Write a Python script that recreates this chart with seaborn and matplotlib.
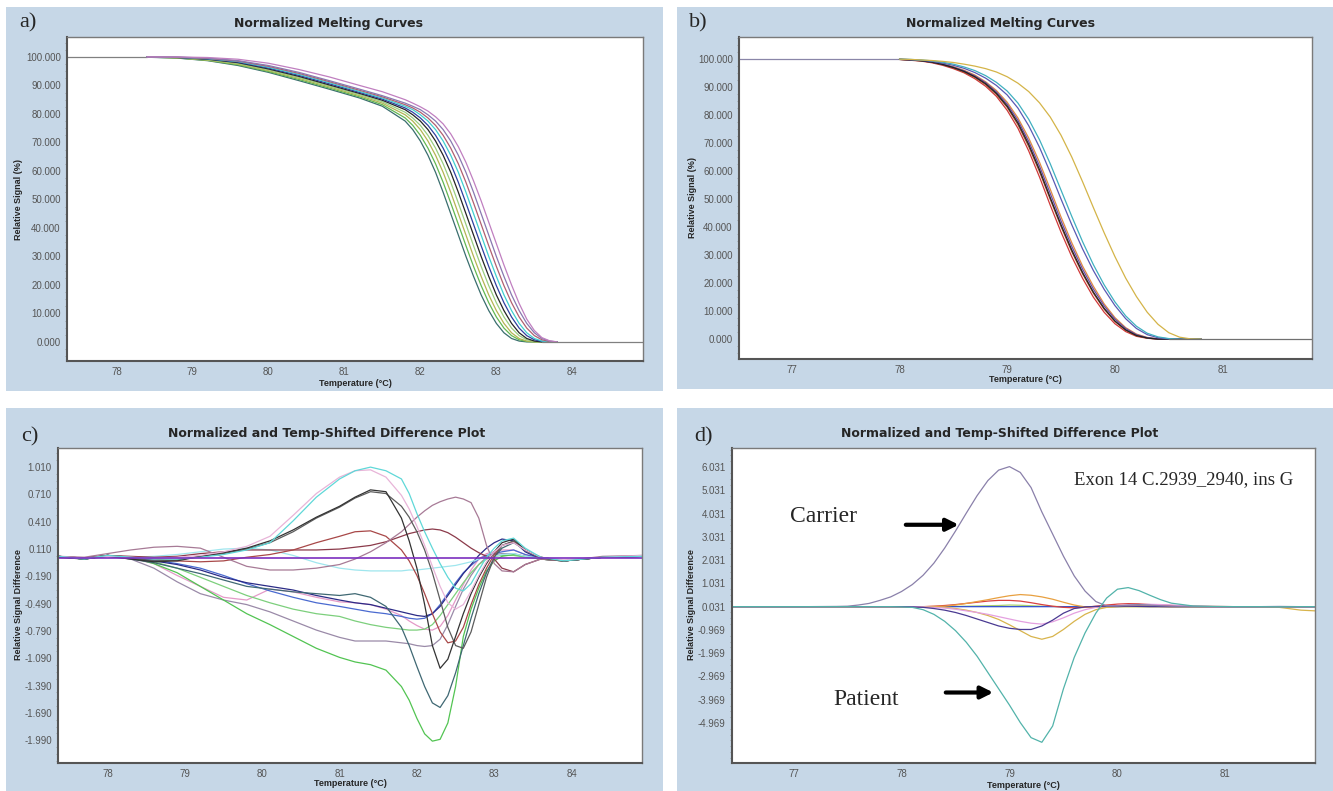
import matplotlib
matplotlib.use('Agg')
import matplotlib.pyplot as plt
import pandas as pd
import seaborn as sns
from matplotlib.patches import Rectangle
from matplotlib.ticker import AutoMinorLocator

W, H = 1333, 791
PANEL_BG = '#c6d7e7'

# ---------------- panel a: normalized melting curves ----------------
A_T = [78.4, 78.8, 79.2, 79.6, 80.0, 80.4, 80.8, 81.2, 81.5, 81.8, 81.9,
       82.0, 82.1, 82.2, 82.3, 82.4, 82.5, 82.6, 82.7, 82.8, 82.9,
       83.0, 83.1, 83.2, 83.3, 83.4, 83.5, 83.6, 83.7, 83.8]
A_CURVES = {
    'a1': [99.9, 99.6, 98.7, 97.0, 94.6, 91.7, 88.7, 85.6, 82.7, 77.5, 74.5,
           70.5, 65.5, 59.5, 52.5, 45.0, 37.5, 30.0, 23.0, 16.5, 11.0,
           6.5, 3.2, 1.2, 0.3, 0, 0, 0, 0, 0],
    'a2': [99.95, 99.65, 98.8, 97.25, 94.9, 92.1, 89.1, 86.0, 83.25, 78.6, 76.0,
           72.5, 68.0, 62.5, 56.0, 48.75, 41.25, 33.75, 26.5, 19.75, 13.75,
           8.75, 4.85, 2.2, 0.75, 0.15, 0, 0, 0, 0],
    'a3': [100, 99.7, 98.9, 97.5, 95.2, 92.5, 89.5, 86.4, 83.8, 79.7, 77.5,
           74.5, 70.5, 65.5, 59.5, 52.5, 45.0, 37.5, 30.0, 23.0, 16.5,
           11.0, 6.5, 3.2, 1.2, 0.3, 0, 0, 0, 0],
    'a4': [100, 99.75, 99.05, 97.75, 95.5, 92.85, 89.85, 86.8, 84.3, 80.6, 78.6,
           76.0, 72.5, 68.0, 62.5, 56.0, 48.75, 41.25, 33.75, 26.5, 19.75,
           13.75, 8.75, 4.85, 2.2, 0.75, 0.15, 0, 0, 0],
    'a5': [100, 99.8, 99.2, 98.0, 95.8, 93.2, 90.2, 87.2, 84.8, 81.5, 79.7,
           77.5, 74.5, 70.5, 65.5, 59.5, 52.5, 45.0, 37.5, 30.0, 23.0,
           16.5, 11.0, 6.5, 3.2, 1.2, 0.3, 0, 0, 0],
    'a6': [100, 99.85, 99.3, 98.2, 96.1, 93.55, 90.6, 87.55, 85.2, 82.1, 80.6,
           78.6, 76.0, 72.5, 68.0, 62.5, 56.0, 48.75, 41.25, 33.75, 26.5,
           19.75, 13.75, 8.75, 4.85, 2.2, 0.75, 0.15, 0, 0],
    'a7': [100, 99.9, 99.4, 98.4, 96.4, 93.9, 91.0, 87.9, 85.6, 82.7, 81.5,
           79.7, 77.5, 74.5, 70.5, 65.5, 59.5, 52.5, 45.0, 37.5, 30.0,
           23.0, 16.5, 11.0, 6.5, 3.2, 1.2, 0.3, 0, 0],
    'a8': [100, 99.9, 99.5, 98.55, 96.7, 94.25, 91.35, 88.3, 86.0, 83.25, 82.1,
           80.6, 78.6, 76.0, 72.5, 68.0, 62.5, 56.0, 48.75, 41.25, 33.75,
           26.5, 19.75, 13.75, 8.75, 4.85, 2.2, 0.75, 0.15, 0],
    'a9': [100, 99.95, 99.6, 98.7, 97.0, 94.6, 91.7, 88.7, 86.4, 83.8, 82.7,
           81.5, 79.7, 77.5, 74.5, 70.5, 65.5, 59.5, 52.5, 45.0, 37.5,
           30.0, 23.0, 16.5, 11.0, 6.5, 3.2, 1.2, 0.3, 0],
    'a10': [100, 100, 99.8, 99.2, 97.8, 95.6, 93.0, 90.0, 87.8, 85.0, 83.8,
            82.5, 81.0, 79.0, 76.5, 73.0, 68.5, 63.0, 56.5, 49.5, 42.0,
            34.5, 27.0, 20.0, 13.5, 8.0, 4.0, 1.5, 0.4, 0],
}
A_COLORS = ['#3a6e6e', '#62b852', '#b4b454', '#9acd80', '#252525',
            '#3040a0', '#40d0d0', '#b06070', '#8878b0', '#c07fc0']
A_HEAD_T, A_HEAD_V = [77.35, 78.4], [100, 100]
A_TAIL_T, A_TAIL_V = [83.6, 84.93], [0, 0]

# ---------------- panel b: normalized melting curves ----------------
B_T = [78.0, 78.1, 78.2, 78.3, 78.4, 78.5, 78.6, 78.7, 78.8, 78.9,
       79.0, 79.1, 79.2, 79.3, 79.4, 79.5, 79.6, 79.7, 79.8, 79.9,
       80.0, 80.1, 80.2, 80.3, 80.4, 80.5, 80.6, 80.7, 80.8]
B_CURVES = {
    'b1': [99.9, 99.6, 99.3, 98.7, 97.8, 96.6, 95.1, 93.0, 90.3, 86.7,
           81.7, 75.3, 67.2, 57.9, 47.8, 38.2, 29.4, 21.7, 15.0, 9.6,
           5.5, 2.7, 1.0, 0.3, 0, 0, 0, 0, 0],
    'b2': [99.9, 99.8, 99.5, 99.0, 98.3, 97.3, 96.0, 94.3, 91.9, 88.8,
           84.6, 79.0, 71.8, 63.2, 53.5, 43.6, 34.4, 26.1, 18.9, 12.6,
           7.7, 4.1, 1.8, 0.6, 0.1, 0, 0, 0, 0],
    'b3': [99.9, 99.7, 99.4, 98.9, 98.0, 96.9, 95.4, 93.5, 90.9, 87.4,
           82.8, 76.6, 68.8, 59.8, 49.9, 40.2, 31.2, 23.3, 16.4, 10.7,
           6.3, 3.2, 1.2, 0.4, 0, 0, 0, 0, 0],
    'b4': [99.9, 99.8, 99.5, 98.9, 98.2, 97.1, 95.8, 94.0, 91.6, 88.3,
           83.9, 78.1, 70.6, 61.8, 52.0, 42.2, 33.1, 25.0, 17.9, 11.9,
           7.2, 3.8, 1.6, 0.5, 0.1, 0, 0, 0, 0],
    'b5': [99.9, 99.7, 99.4, 98.9, 98.1, 97.0, 95.6, 93.7, 91.2, 87.8,
           83.2, 77.2, 69.5, 60.5, 50.5, 40.8, 31.8, 23.8, 16.8, 11.0,
           6.5, 3.3, 1.3, 0.4, 0, 0, 0, 0, 0],
    'b6': [100, 99.8, 99.6, 99.2, 98.6, 97.8, 96.7, 95.2, 93.2, 90.6,
           87.2, 82.5, 76.2, 68.5, 59.5, 50.0, 40.8, 32.2, 24.5, 17.8,
           12.0, 7.3, 3.8, 1.6, 0.5, 0.1, 0, 0, 0],
    'b7': [100, 99.9, 99.7, 99.4, 98.9, 98.2, 97.2, 95.9, 94.1, 91.7,
           88.6, 84.3, 78.5, 71.2, 62.6, 53.2, 43.8, 34.8, 26.6, 19.4,
           13.3, 8.3, 4.6, 2.1, 0.8, 0.2, 0, 0, 0],
    'b8': [100, 99.9, 99.7, 99.5, 99.2, 98.8, 98.2, 97.5, 96.6, 95.4,
           93.7, 91.4, 88.4, 84.4, 79.3, 72.8, 65.0, 56.2, 47.0, 38.0,
           29.5, 21.8, 15.2, 9.6, 5.3, 2.3, 0.7, 0.1, 0],
}
B_COLORS = ['#d03838', '#e08a40', '#a0522d', '#6a4aa8', '#222222',
            '#5a5ab4', '#40b0c0', '#d4b448']
B_HEAD_T, B_HEAD_V = [76.51, 78.0], [100, 100]
B_TAIL_T, B_TAIL_V = [80.5, 81.83], [0, 0]

# ---------------- panel c: difference plot ----------------
C_T = [77.36, 77.7, 78.0, 78.3, 78.6, 78.9, 79.2, 79.5, 79.8, 80.1, 80.4, 80.7,
       81.0, 81.2, 81.4, 81.6, 81.8, 81.9, 82.0, 82.1, 82.2, 82.3, 82.4, 82.5,
       82.6, 82.7, 82.8, 82.9, 83.0, 83.1, 83.25, 83.4, 83.6, 83.9, 84.4, 84.91]
C_CURVES = {
    'graypurple': [0.03, 0.0, 0.04, 0.0, -0.1, -0.25, -0.38, -0.45, -0.5, -0.58, -0.68, -0.78,
                   -0.86, -0.9, -0.9, -0.9, -0.92, -0.93, -0.95, -0.96, -0.95, -0.88, -0.72, -0.52,
                   -0.33, -0.18, -0.06, 0.02, 0.05, 0.06, 0.06, 0.03, 0.0, -0.02, 0.02, 0.03],
    'pink': [0.03, 0.0, 0.04, 0.01, -0.05, -0.18, -0.3, -0.42, -0.45, -0.33, -0.36, -0.42,
             -0.47, -0.48, -0.5, -0.55, -0.62, -0.68, -0.73, -0.77, -0.78, -0.74, -0.62, -0.45,
             -0.28, -0.12, 0.0, 0.06, 0.08, 0.1, 0.1, 0.05, 0.01, -0.02, 0.02, 0.03],
    'green2': [0.03, 0.0, 0.04, 0.01, -0.03, -0.1, -0.2, -0.3, -0.4, -0.48, -0.55, -0.6,
               -0.63, -0.68, -0.72, -0.75, -0.77, -0.78, -0.78, -0.77, -0.72, -0.62, -0.5, -0.38,
               -0.26, -0.15, -0.06, 0.0, 0.03, 0.04, 0.04, 0.02, 0.0, -0.02, 0.02, 0.03],
    'blue': [0.03, 0.0, 0.04, 0.02, -0.01, -0.05, -0.1, -0.18, -0.27, -0.35, -0.42, -0.48,
             -0.52, -0.55, -0.58, -0.6, -0.63, -0.65, -0.66, -0.65, -0.6, -0.5, -0.38, -0.26,
             -0.15, -0.07, 0.0, 0.04, 0.06, 0.08, 0.1, 0.05, 0.01, -0.02, 0.02, 0.03],
    'navy': [0.03, 0.01, 0.04, 0.01, -0.02, -0.06, -0.12, -0.2, -0.26, -0.3, -0.34, -0.4,
             -0.45, -0.48, -0.5, -0.54, -0.58, -0.6, -0.62, -0.63, -0.6, -0.52, -0.4, -0.28,
             -0.16, -0.06, 0.04, 0.12, 0.18, 0.22, 0.2, 0.08, 0.0, -0.02, 0.02, 0.03],
    'green': [0.03, 0.0, 0.04, 0.02, -0.05, -0.15, -0.3, -0.45, -0.6, -0.72, -0.85, -0.98,
              -1.08, -1.13, -1.16, -1.22, -1.4, -1.55, -1.75, -1.92, -2.0, -1.98, -1.8, -1.4,
              -0.85, -0.55, -0.32, -0.13, -0.02, 0.03, 0.05, 0.03, 0.0, -0.02, 0.02, 0.03],
    'slate': [0.03, 0.0, 0.04, 0.0, -0.04, -0.1, -0.16, -0.23, -0.3, -0.33, -0.36, -0.38,
              -0.4, -0.38, -0.42, -0.52, -0.75, -0.95, -1.18, -1.4, -1.58, -1.63, -1.5, -1.25,
              -0.95, -0.65, -0.38, -0.15, 0.02, 0.12, 0.18, 0.1, 0.02, -0.02, 0.02, 0.03],
    'lightcyan': [0.03, 0.0, 0.04, 0.02, 0.03, 0.05, 0.08, 0.11, 0.12, 0.1, 0.04, -0.04,
                  -0.1, -0.12, -0.13, -0.13, -0.13, -0.12, -0.12, -0.11, -0.1, -0.09, -0.08, -0.07,
                  -0.05, -0.03, 0.0, 0.02, 0.03, 0.05, 0.06, 0.03, 0.01, -0.01, 0.02, 0.03],
    'maroon': [0.03, 0.01, 0.04, 0.03, 0.02, 0.03, 0.06, 0.08, 0.1, 0.1, 0.1, 0.1,
               0.11, 0.13, 0.15, 0.19, 0.25, 0.28, 0.3, 0.32, 0.33, 0.32, 0.29, 0.24,
               0.18, 0.12, 0.07, 0.03, 0.0, -0.1, -0.14, -0.06, 0.0, -0.02, 0.02, 0.03],
    'red': [0.03, 0.0, 0.04, 0.02, 0.0, -0.02, -0.03, -0.02, 0.02, 0.05, 0.1, 0.18,
            0.25, 0.3, 0.31, 0.25, 0.1, -0.02, -0.18, -0.38, -0.6, -0.8, -0.92, -0.9,
            -0.75, -0.5, -0.28, -0.1, 0.05, 0.15, 0.19, 0.1, 0.02, -0.02, 0.02, 0.03],
    'mauve': [0.03, 0.02, 0.06, 0.1, 0.13, 0.14, 0.12, 0.02, -0.08, -0.12, -0.12, -0.1,
              -0.06, 0.0, 0.08, 0.18, 0.3, 0.38, 0.46, 0.53, 0.59, 0.63, 0.66, 0.68,
              0.66, 0.62, 0.45, 0.15, -0.05, -0.13, -0.14, -0.06, 0.0, -0.02, 0.03, 0.04],
    'darkgray': [0.03, 0.01, 0.04, 0.01, -0.02, -0.01, 0.03, 0.06, 0.11, 0.18, 0.3, 0.45,
                 0.57, 0.67, 0.74, 0.72, 0.58, 0.46, 0.3, 0.1, -0.15, -0.45, -0.75, -0.95,
                 -0.98, -0.8, -0.5, -0.2, 0.02, 0.15, 0.2, 0.1, 0.01, -0.02, 0.02, 0.03],
    'black': [0.02, 0.0, 0.03, 0.0, -0.03, -0.02, 0.03, 0.07, 0.12, 0.2, 0.32, 0.46,
              0.58, 0.68, 0.76, 0.74, 0.45, 0.2, -0.1, -0.5, -0.95, -1.2, -1.1, -0.85,
              -0.6, -0.38, -0.2, -0.05, 0.08, 0.18, 0.22, 0.1, 0.02, -0.02, 0.02, 0.03],
    'lightpink': [0.03, 0.01, 0.03, 0.02, 0.01, 0.02, 0.04, 0.08, 0.14, 0.25, 0.48, 0.72,
                  0.9, 0.97, 0.98, 0.9, 0.7, 0.55, 0.36, 0.15, -0.08, -0.3, -0.48, -0.55,
                  -0.5, -0.35, -0.18, -0.03, 0.08, 0.15, 0.18, 0.1, 0.02, -0.01, 0.02, 0.04],
    'cyan': [0.03, 0.0, 0.04, 0.02, 0.0, 0.0, 0.02, 0.05, 0.1, 0.18, 0.42, 0.68,
             0.88, 0.97, 1.01, 0.97, 0.88, 0.72, 0.5, 0.3, 0.12, -0.05, -0.2, -0.32,
             -0.35, -0.27, -0.12, 0.02, 0.12, 0.2, 0.23, 0.12, 0.02, -0.02, 0.02, 0.03],
}
C_COLORS = ['#9a8aa8', '#e49ac8', '#7ccf7c', '#4a6ad0', '#2b2b86', '#52c452',
            '#3f6873', '#9fe6ee', '#8b3a4a', '#a84848', '#a77a96', '#5c5c5c',
            '#333333', '#e8b4d8', '#5fd8d8']
C_BASE_T, C_BASE_V = [77.36, 84.91], [0.01, 0.01]

# ---------------- panel d: difference plot ----------------
D_T = [76.43, 76.8, 77.1, 77.4, 77.5, 77.6, 77.7, 77.8, 77.9, 78.0, 78.1, 78.2,
       78.3, 78.4, 78.5, 78.6, 78.7, 78.8, 78.9, 79.0, 79.1, 79.2, 79.3, 79.4,
       79.5, 79.6, 79.7, 79.8, 79.9, 80.0, 80.1, 80.2, 80.3, 80.4, 80.5, 80.7,
       80.9, 81.1, 81.3, 81.5, 81.7, 81.83]
D_CURVES = {
    'lgreen': [0.03] * 9 + [0.03, 0.03, 0.03, 0.03, 0.04, 0.04, 0.05, 0.06, 0.07, 0.08,
                            0.1, 0.09, 0.07, 0.05, 0.04, 0.03, 0.03, 0.03, 0.03, 0.03] + [0.03] * 13,
    'blue': [0.03] * 30 + [0.05, 0.07, 0.06, 0.04] + [0.03] * 8,
    'red': [0.03] * 9 + [0.03, 0.03, 0.03, 0.05, 0.08, 0.12, 0.17, 0.22, 0.27, 0.3,
                         0.3, 0.27, 0.2, 0.12, 0.05, 0.0, -0.02, 0.0, 0.05, 0.1,
                         0.14, 0.16, 0.15, 0.12, 0.1, 0.08,
                         0.05, 0.04, 0.03, 0.03, 0.03, 0.03, 0.03],
    'orange': [0.03] * 9 + [0.03, 0.03, 0.03, 0.04, 0.05, 0.1, 0.17, 0.25, 0.33, 0.42,
                            0.5, 0.55, 0.52, 0.45, 0.35, 0.22, 0.1, 0.02, 0.0, 0.02,
                            0.04, 0.06, 0.06, 0.05, 0.04, 0.03] + [0.03] * 7,
    'yellow': [0.03] * 9 + [0.03, 0.03, 0.03, 0.02, 0.0, -0.05, -0.12, -0.22, -0.35, -0.52,
                            -0.75, -1.0, -1.25, -1.37, -1.25, -0.95, -0.6, -0.3, -0.1, 0.0,
                            0.03, 0.03, 0.03, 0.03, 0.03, 0.03,
                            0.03, 0.03, 0.03, 0.02, 0.0, -0.12, -0.15],
    'pink': [0.03] * 9 + [0.03, 0.03, 0.02, 0.0, -0.03, -0.08, -0.15, -0.22, -0.3, -0.4,
                          -0.5, -0.6, -0.68, -0.72, -0.62, -0.45, -0.25, -0.1, 0.0, 0.05,
                          0.08, 0.1, 0.12, 0.13, 0.12, 0.1,
                          0.05, 0.03, 0.03, 0.03, 0.03, 0.03, 0.03],
    'navy': [0.03] * 9 + [0.03, 0.02, 0.0, -0.05, -0.12, -0.22, -0.35, -0.5, -0.65, -0.8,
                          -0.9, -0.95, -0.95, -0.8, -0.55, -0.25, -0.05, 0.02, 0.04, 0.05,
                          0.05, 0.05, 0.04, 0.03, 0.03, 0.03] + [0.03] * 7,
    'carrier': [0.03, 0.03, 0.03, 0.04, 0.05, 0.1, 0.17, 0.3, 0.45,
                0.68, 0.98, 1.38, 1.9, 2.55, 3.28, 4.05, 4.8, 5.45, 5.9,
                6.05, 5.8, 5.15, 4.1, 3.15, 2.2, 1.35, 0.7, 0.25, 0.06,
                0.06, 0.1, 0.12, 0.1, 0.07, 0.05,
                0.04, 0.03, 0.03, 0.03, 0.04, 0.03, 0.03],
    'patient': [0.03] * 9 + [0.02, 0.0, -0.1, -0.3, -0.6, -1.0, -1.5, -2.1, -2.8, -3.5,
                             -4.2, -4.95, -5.6, -5.8, -5.1, -3.5, -2.15, -1.1, -0.25, 0.4,
                             0.78, 0.85, 0.72, 0.52, 0.33, 0.18,
                             0.06, 0.04, 0.03, 0.03, 0.02, 0.03, 0.03],
}
D_COLORS = ['#a8d070', '#3050d0', '#d84040', '#e8a040', '#d8b44c', '#e4a0e0',
            '#4a3a92', '#8a80aa', '#52b3aa']


def long_form(temps, curves):
    wide = pd.DataFrame({'temp': temps, **curves})
    return wide.melt(id_vars='temp', var_name='sample', value_name='signal')


def draw_curves(ax, temps, curves, colors, lw=0.9):
    df = long_form(temps, curves)
    sns.lineplot(data=df, x='temp', y='signal', hue='sample',
                 hue_order=list(curves), palette=colors, estimator=None,
                 legend=False, linewidth=lw, ax=ax)


def px_axes(fig, left, top, right, bottom):
    return fig.add_axes([left / W, 1 - bottom / H, (right - left) / W, (bottom - top) / H])


def style_axes(ax, xlim, ylim, xticks, yticks, yfmt):
    ax.set_xlim(xlim)
    ax.set_ylim(ylim)
    ax.set_xticks(xticks)
    ax.set_xticklabels([str(t) for t in xticks])
    ax.set_yticks(yticks)
    ax.set_yticklabels([yfmt.format(v) for v in yticks])
    ax.yaxis.set_minor_locator(AutoMinorLocator(4))
    ax.tick_params(which='major', direction='out', length=3, width=0.7,
                   color='#777777', labelsize=7, labelcolor='#555555', pad=1.5)
    ax.tick_params(axis='y', which='minor', direction='out', length=1.5,
                   width=0.6, color='#999999', left=True)
    ax.set_xlabel('')
    ax.set_ylabel('')
    for side in ['left', 'bottom']:
        ax.spines[side].set_color('#555555')
        ax.spines[side].set_linewidth(1.5)
    for side in ['top', 'right']:
        ax.spines[side].set_color('#7a7a7a')
        ax.spines[side].set_linewidth(1.0)


def ftext(fig, x, y, s, **kw):
    fig.text(x / W, 1 - y / H, s, **kw)


sns.set_style('white')
plt.rcParams['font.family'] = ['Liberation Sans', 'DejaVu Sans']

fig = plt.figure(figsize=(W / 100, H / 100), dpi=100)
fig.patch.set_facecolor('white')

# blue panel backgrounds
for x0, y0, x1, y1 in [(6, 7, 663, 391), (677, 7, 1333, 389),
                       (6, 408, 663, 791), (677, 408, 1333, 791)]:
    fig.add_artist(Rectangle((x0 / W, 1 - y1 / H), (x1 - x0) / W, (y1 - y0) / H,
                             transform=fig.transFigure, facecolor=PANEL_BG,
                             edgecolor='none', zorder=0))

title_kw = dict(ha='center', va='center', fontsize=9, fontweight='bold',
                family=['DejaVu Sans'])
label_kw = dict(ha='center', va='center', fontsize=6.5, fontweight='bold')
panel_kw = dict(ha='left', va='center', fontsize=16, family=['Liberation Serif'])

# ---- a ----
ax_a = px_axes(fig, 67, 37, 643, 361)
sns.lineplot(x=A_HEAD_T, y=A_HEAD_V, color='#808080', linewidth=0.9, ax=ax_a)
draw_curves(ax_a, A_T, A_CURVES, A_COLORS)
sns.lineplot(x=A_TAIL_T, y=A_TAIL_V, color='#808080', linewidth=0.9, ax=ax_a)
style_axes(ax_a, (77.35, 84.93), (-6.7, 107), [78, 79, 80, 81, 82, 83, 84],
           [100, 90, 80, 70, 60, 50, 40, 30, 20, 10, 0], '{:.3f}')
ftext(fig, 328, 23, 'Normalized Melting Curves', **title_kw)
ftext(fig, 19, 23, 'a)', **panel_kw)
ftext(fig, 19, 199, 'Relative Signal (%)', rotation=90, **label_kw)
ftext(fig, 355, 383, 'Temperature (°C)', **label_kw)

# ---- b ----
ax_b = px_axes(fig, 739, 37, 1312, 359)
sns.lineplot(x=B_HEAD_T, y=B_HEAD_V, color='#8a86a8', linewidth=0.9, ax=ax_b)
draw_curves(ax_b, B_T, B_CURVES, B_COLORS)
sns.lineplot(x=B_TAIL_T, y=B_TAIL_V, color='#707070', linewidth=0.9, ax=ax_b)
style_axes(ax_b, (76.51, 81.83), (-7.1, 107.9), [77, 78, 79, 80, 81],
           [100, 90, 80, 70, 60, 50, 40, 30, 20, 10, 0], '{:.3f}')
ftext(fig, 1000, 23, 'Normalized Melting Curves', **title_kw)
ftext(fig, 689, 23, 'b)', **panel_kw)
ftext(fig, 693, 198, 'Relative Signal (%)', rotation=90, **label_kw)
ftext(fig, 1025, 380, 'Temperature (°C)', **label_kw)

# ---- c ----
ax_c = px_axes(fig, 58, 448, 642, 763)
draw_curves(ax_c, C_T, C_CURVES, C_COLORS)
sns.lineplot(x=C_BASE_T, y=C_BASE_V, color='#7b2fbf', linewidth=1.2, ax=ax_c)
style_axes(ax_c, (77.36, 84.91), (-2.24, 1.22), [78, 79, 80, 81, 82, 83, 84],
           [1.01 - 0.3 * k for k in range(11)], '{:.3f}')
ftext(fig, 327, 433, 'Normalized and Temp-Shifted Difference Plot', **title_kw)
ftext(fig, 21, 437, 'c)', **panel_kw)
ftext(fig, 19, 605, 'Relative Signal Difference', rotation=90, **label_kw)
ftext(fig, 350, 783, 'Temperature (°C)', **label_kw)

# ---- d ----
ax_d = px_axes(fig, 732, 448, 1315, 763)
draw_curves(ax_d, D_T, D_CURVES, D_COLORS)
style_axes(ax_d, (76.43, 81.83), (-6.69, 6.85), [77, 78, 79, 80, 81],
           [6.031 - k for k in range(12)], '{:.3f}')
ftext(fig, 1000, 433, 'Normalized and Temp-Shifted Difference Plot', **title_kw)
ftext(fig, 694, 437, 'd)', **panel_kw)
ftext(fig, 692, 605, 'Relative Signal Difference', rotation=90, **label_kw)
ftext(fig, 1023, 785, 'Temperature (°C)', **label_kw)

serif = ['Liberation Serif', 'DejaVu Serif']
ax_d.text(76.97, 3.9, 'Carrier', fontsize=17, family=serif, ha='left', va='center')
ax_d.text(77.37, -3.97, 'Patient', fontsize=17, family=serif, ha='left', va='center')
ax_d.text(79.6, 5.49, 'Exon 14 C.2939_2940, ins G', fontsize=13.5, family=serif,
          ha='left', va='center')
arrow = dict(arrowstyle='-|>', color='black', lw=3, mutation_scale=18,
             shrinkA=0, shrinkB=0)
ax_d.annotate('', xy=(78.53, 3.55), xytext=(78.04, 3.55), arrowprops=arrow)
ax_d.annotate('', xy=(78.85, -3.66), xytext=(78.41, -3.66), arrowprops=arrow)

fig.savefig('out.png', dpi=100)
